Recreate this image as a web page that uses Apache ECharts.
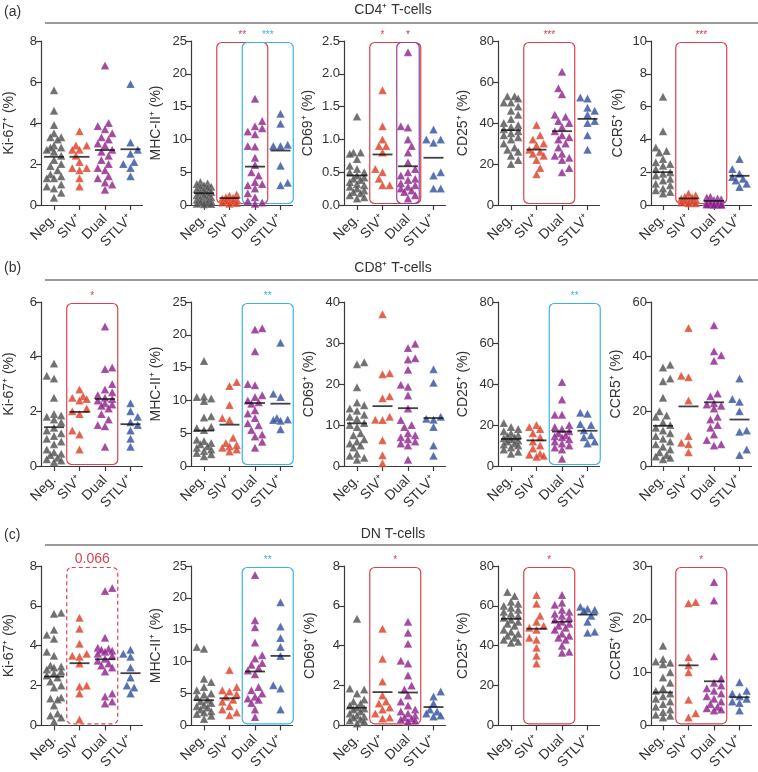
<!DOCTYPE html>
<html><head><meta charset="utf-8">
<script src="https://cdn.jsdelivr.net/npm/echarts@6/dist/echarts.min.js"></script>
<style>html,body{margin:0;padding:0;background:#fff}#c{width:758px;height:772px}</style>
</head><body><div id="c"></div>
<script>
// ---------- DATA ----------
const groups = ['Neg.', 'SIV⁺', 'Dual', 'STLV⁺'];
const rowTitles = ['CD4⁺ T-cells', 'CD8⁺ T-cells', 'DN T-cells'];
const rowLetters = ['(a)', '(b)', '(c)'];
const markerNames = ['Ki-67⁺ (%)', 'MHC-II⁺ (%)', 'CD69⁺ (%)', 'CD25⁺ (%)', 'CCR5⁺ (%)'];

// CD4+ T-cells
const cd4_ki67 = [
  [5.6,4.6,3.9,3.5,3.3,3.3,3.2,2.9,2.8,2.8,2.7,2.6,2.4,2.2,2.0,1.9,1.7,1.5,1.4,1.3,1.3,1.0,0.9,0.8,0.6,0.35],
  [3.6,2.9,2.9,2.7,2.7,2.4,2.1,1.8,1.8,1.7,1.3,0.9],
  [6.8,4.0,3.85,3.7,3.5,3.3,3.2,3.0,2.9,2.7,2.6,2.4,2.2,2.0,1.8,1.7,1.4,1.3,1.1,1.0,0.75],
  [5.9,3.05,2.7,2.5,2.1,2.0,1.8,1.4]];
const cd4_ki67_mean = [2.35, 2.35, 2.68, 2.72];
const cd4_mhc = [
  [3.5,3.3,3.2,3.0,2.8,2.7,2.6,2.4,2.2,2.0,1.9,1.7,1.5,1.4,1.2,1.0,0.9,0.8,0.6,0.5,0.4,0.3,0.2,0.15,0.1],
  [1.6,1.4,1.2,1.1,1.0,0.9,0.8,0.6,0.5,0.4,0.3,0.2],
  [16.2,12.8,12.0,11.7,11.2,10.8,9.0,8.9,7.2,6.1,5.0,4.5,3.5,3.2,3.0,2.5,1.8,1.2,0.6,0.4,0.2],
  [13.9,12.4,9.2,9.0,9.0,6.0,3.4,3.0]];
const cd4_mhc_mean = [1.8, 1.05, 5.85, 8.3];
const cd4_cd69 = [
  [1.35,0.8,0.8,0.78,0.7,0.6,0.55,0.5,0.5,0.45,0.42,0.4,0.38,0.35,0.32,0.3,0.28,0.25,0.22,0.2,0.18,0.15,0.12,0.1],
  [1.75,1.2,1.0,0.9,0.9,0.8,0.55,0.5,0.4,0.3,0.3],
  [2.33,1.2,1.18,1.0,0.9,0.8,0.65,0.55,0.5,0.45,0.4,0.38,0.33,0.3,0.28,0.25,0.22,0.2,0.15,0.1],
  [1.15,1.0,1.0,0.95,0.5,0.45,0.25,0.25]];
const cd4_cd69_mean = [0.45, 0.77, 0.59, 0.72];
const cd4_cd25 = [
  [53,53,52,50,50,48,46,44,42,40,39,38,37,36,35,34,33,32,30,28,27,26,24,22,20],
  [39,34,32,30,29,27,26,25,24,22,18,15],
  [65,57,54,44,43,41,40,38,36,34,33,32,30,28,25,24,23,22,18,16],
  [52.5,52,47.5,46,44,41,40,34,27]];
const cd4_cd25_mean = [36.5, 27, 36, 42];
const cd4_ccr5 = [
  [6.6,4.5,3.5,3.3,3.2,2.8,2.6,2.5,2.4,2.2,2.0,1.9,1.8,1.6,1.5,1.3,1.2,1.0,0.9,0.8,0.7],
  [0.7,0.6,0.5,0.45,0.4,0.35,0.3,0.25,0.2,0.15,0.1,0.1],
  [0.5,0.45,0.4,0.35,0.3,0.25,0.2,0.18,0.15,0.12,0.1,0.08,0.06,0.05,0.05,0.04,0.03,0.03,0.02,0.02],
  [2.8,2.2,1.9,1.7,1.6,1.5,1.3,1.1]];
const cd4_ccr5_mean = [2.0, 0.4, 0.25, 1.78];

// CD8+ T-cells
const cd8_ki67 = [
  [3.75,3.3,3.2,2.5,1.9,1.85,1.8,1.7,1.6,1.4,1.3,1.2,1.1,1.0,0.9,0.8,0.6,0.5,0.45,0.4,0.3,0.25,0.2,0.15],
  [2.8,2.55,2.5,2.45,2.4,2.1,2.0,1.9,1.3,1.15,0.6],
  [5.1,3.6,3.55,3.0,2.8,2.7,2.6,2.5,2.45,2.4,2.3,2.25,2.2,2.1,1.9,1.7,1.5,1.45,0.7],
  [2.3,2.0,1.8,1.6,1.5,1.3,1.0,0.7]];
const cd8_ki67_mean = [1.42, 1.98, 2.45, 1.53];
const cd8_mhc = [
  [16.0,10.6,10.5,10.3,9.9,7.6,7.4,6.0,5.8,5.5,4.0,3.8,3.5,3.3,3.0,2.8,2.5,2.3,2.0,1.8,1.5],
  [12.8,12.2,9.3,7.3,7.0,4.3,3.5,3.2,3.0,2.8,2.5,2.2],
  [21.0,20.8,17.5,12.5,12.3,10.8,10.5,10.0,9.7,9.5,8.5,8.0,7.3,6.5,6.2,5.5,4.8,4.5,3.7,2.8],
  [18.8,11.0,10.5,7.3,7.1,7.0,6.9,5.6]];
const cd8_mhc_mean = [5.4, 6.3, 9.6, 9.5];
const cd8_cd69 = [
  [25.3,24.8,19.2,15.5,14.8,14.0,13.5,12.5,12.0,11.5,10.5,10.0,9.5,8.0,7.5,6.5,6.0,5.5,5.0,4.5,3.0,2.5,2.0,1.5],
  [37.0,22.6,22.4,17.0,16.5,12.0,11.3,11.2,6.3,2.6,0.7],
  [29.8,28.8,26.3,26.0,23.5,19.8,19.3,17.2,14.0,11.2,10.0,9.5,8.0,7.5,7.0,6.5,6.0,5.5,5.0,1.5],
  [23.6,20.3,12.0,11.5,11.3,9.5,5.0,2.5]];
const cd8_cd69_mean = [10.4, 14.6, 14.1, 11.7];
const cd8_cd25 = [
  [21,19,18,17,16,15,14.5,14,13.5,13,12.5,12,11,10.5,10,9,8,7,6],
  [20,19,18,16,14,12,10,8.5,6,5.5,5,4.5],
  [41,32.5,25,25,20,19,18,17,16,15,14.5,14,13,12,11,10,9,8,3.5],
  [26,25.5,20.5,20,17.5,15,14,12,11]];
const cd8_cd25_mean = [13.2, 12.5, 16.8, 17.2];
const cd8_ccr5 = [
  [37,36,32,31,25,20,18.5,18,16,15,14,13,12,11,10,9,8,7,6,5,4,3.5,3,2.5],
  [50.5,33,32.5,24,11,8.5,8,5],
  [51.5,42,40.5,38.5,26.5,25.5,23,22.5,22,21,18,17,15,14,11.5,9.5,8,7.5],
  [32,24.5,23.5,20,13,12.5,6,4]];
const cd8_ccr5_mean = [14.7, 21.8, 23.3, 17];

// DN T-cells
const dn_ki67 = [
  [5.65,5.6,4.8,4.55,4.35,3.7,3.5,3.0,2.95,2.9,2.8,2.7,2.6,2.5,2.4,2.2,2.0,1.9,1.4,1.35,1.3,1.0,0.6,0.5,0.4,0.2],
  [5.4,4.85,4.1,3.6,3.5,3.45,3.1,2.0,1.95,1.6,0.3],
  [6.9,6.75,4.4,3.9,3.85,3.8,3.75,3.7,3.6,3.5,3.35,3.25,3.1,3.0,2.9,2.7,1.6,1.45,1.2,1.1],
  [3.8,3.6,3.45,2.9,2.4,2.0,1.9,1.6]];
const dn_ki67_mean = [2.45, 3.12, 3.32, 2.62];
const dn_mhc = [
  [12.3,12.0,7.3,6.8,6.0,5.5,5.0,4.8,4.5,4.0,3.8,3.5,3.2,3.0,2.8,2.5,2.2,2.0,1.8,1.5,1.0],
  [8.7,6.0,5.5,5.3,4.9,4.5,4.0,3.7,3.0,2.5,2.0,1.6],
  [23.6,16.5,15.4,13.0,11.0,10.5,9.8,9.5,9.0,8.6,8.0,6.0,5.5,5.0,4.5,4.2,4.0,3.5,2.5,1.3],
  [19.3,15.5,13.7,12.3,10.9,6.3,5.8,2.5]];
const dn_mhc_mean = [3.95, 4.25, 8.45, 10.9];
const dn_cd69 = [
  [5.35,1.85,1.8,1.6,1.3,1.2,1.1,1.0,0.9,0.85,0.8,0.7,0.6,0.5,0.45,0.4,0.3,0.25,0.2,0.1],
  [4.85,3.35,2.2,1.5,1.2,1.1,0.9,0.8,0.6,0.4,0.35],
  [5.2,4.65,4.1,3.25,3.1,2.5,2.0,1.8,1.5,1.2,1.0,0.8,0.7,0.6,0.5,0.4,0.35,0.3,0.25,0.2],
  [1.7,1.45,1.1,0.8,0.7,0.6,0.5,0.45]];
const dn_cd69_mean = [0.88, 1.67, 1.65, 0.92];
const dn_cd25 = [
  [67,65,62,61,60,59,58,57,56,55,54,53,52,51,50,48,47,46,45,44,43,42,41.5],
  [65.5,61,55,52,50,49,48,44,43,39,35,31],
  [65.5,61.5,60.5,58,57,56,55,54,53,52,51,50,49,48,46,45,44,43,40,37,36.5],
  [59.5,58.5,58,57.5,55,52,47,46.5]];
const dn_cd25_mean = [53.5, 48.5, 52, 55.6];
const dn_ccr5 = [
  [15.0,12.5,12.0,11.8,11.5,10.0,9.0,8.0,7.0,6.5,6.0,5.5,5.0,4.5,4.0,3.5,3.0,2.5,2.0,1.8,1.5],
  [23.2,23.0,12.8,11.3,10.0,4.8,2.3,1.5],
  [27.0,23.5,13.0,8.8,8.0,7.5,7.0,6.5,6.0,5.5,5.0,4.5,4.0,3.5,3.2,3.0,2.8],
  [8.1,6.5,6.0,5.5,5.0,4.5,4.2,2.8]];
const dn_ccr5_mean = [6.2, 11.3, 8.3, 5.3];

// y-axis ranges and tick steps
const cd4_ymax = [8, 25, 2.5, 80, 10];  const cd4_step = [2, 5, 0.5, 20, 2];
const cd8_ymax = [6, 25, 40, 80, 60];   const cd8_step = [2, 5, 10, 20, 20];
const dn_ymax  = [8, 25, 8, 80, 30];    const dn_step  = [2, 5, 2, 20, 10];

// significance comparisons (category index range, label, kind)
const cd4_sig = [[], [{from:1,to:2,label:'**',kind:'red'},{from:2,to:3,label:'***',kind:'cyan'}],
  [{from:1,to:2,label:'*',kind:'red',labelAt:1},{from:2,to:2,label:'*',kind:'purple',inner:true}],
  [{from:1,to:2,label:'***',kind:'red'}], [{from:1,to:2,label:'***',kind:'red'}]];
const cd8_sig = [[{from:1,to:2,label:'*',kind:'red'}], [{from:2,to:3,label:'**',kind:'cyan'}], [],
  [{from:2,to:3,label:'**',kind:'cyan'}], []];
const dn_sig = [[{from:1,to:2,label:'0.066',kind:'red',dashed:true}], [{from:2,to:3,label:'**',kind:'cyan'}],
  [{from:1,to:2,label:'*',kind:'red'}], [{from:1,to:2,label:'*',kind:'red'}], [{from:1,to:2,label:'*',kind:'red'}]];

// ---------- LAYOUT / STYLE ----------
const FONT = "'Liberation Sans', Arial, sans-serif";
const COLORS = ['#4d4d4d', '#dc3b22', '#8c1d8a', '#2d4c9f'];
const BOX = {red:'#d8434f', cyan:'#3ab5e2', purple:'#95409a'};
const AXC = '#3a3a3a';
const ROW_TOP = [41, 302, 566];
const PLOT_H = 164;
const AXIS_X = [41, 191, 344, 498, 651];
const NEG_X = [54, 204, 357, 511, 663];
const NAME_EDGE = [[16,163,315,470,625],[16,163,316,470,623],[16,163,317,470,623]];
const BAND = 25.5;

const rows = [
  {data:[cd4_ki67,cd4_mhc,cd4_cd69,cd4_cd25,cd4_ccr5], means:[cd4_ki67_mean,cd4_mhc_mean,cd4_cd69_mean,cd4_cd25_mean,cd4_ccr5_mean], ymax:cd4_ymax, step:cd4_step, sig:cd4_sig},
  {data:[cd8_ki67,cd8_mhc,cd8_cd69,cd8_cd25,cd8_ccr5], means:[cd8_ki67_mean,cd8_mhc_mean,cd8_cd69_mean,cd8_cd25_mean,cd8_ccr5_mean], ymax:cd8_ymax, step:cd8_step, sig:cd8_sig},
  {data:[dn_ki67,dn_mhc,dn_cd69,dn_cd25,dn_ccr5], means:[dn_ki67_mean,dn_mhc_mean,dn_cd69_mean,dn_cd25_mean,dn_ccr5_mean], ymax:dn_ymax, step:dn_step, sig:dn_sig}
];

// beeswarm: horizontal dodge in pixel space so triangles do not pile up
function swarm(vals, yMax, cat) {
  const ppu = PLOT_H / yMax, STEP = 3.6, MIND = 7, MAXK = 2;
  const order = vals.map((v, i) => i).sort((a, b) => vals[a] - vals[b]);
  const placed = [], res = new Array(vals.length);
  for (const i of order) {
    const y = vals[i] * ppu;
    let best = 0, bestD = -1, done = false;
    for (let k = 0; k <= MAXK && !done; k++) {
      const cands = k === 0 ? [0] : (placed.length % 2 ? [k * STEP, -k * STEP] : [-k * STEP, k * STEP]);
      for (const x of cands) {
        let d = Infinity;
        for (const p of placed) d = Math.min(d, Math.hypot(p.x - x, p.y - y));
        if (d >= MIND) { best = x; done = true; break; }
        if (d > bestD) { bestD = d; best = x; }
      }
    }
    placed.push({x: best, y});
    res[i] = [cat + best / BAND, vals[i]];
  }
  return res;
}

const grids = [], xAxes = [], yAxes = [], series = [], graphics = [];
rows.forEach((row, r) => {
  row.data.forEach((pd, c) => {
    const idx = grids.length;
    const ax = AXIS_X[c];
    const xMin = -(NEG_X[c] - ax) / BAND, xMax = 3 + 12 / BAND;
    const yMax = row.ymax[c], step = row.step[c];
    grids.push({left: ax, top: ROW_TOP[r], width: (xMax - xMin) * BAND, height: PLOT_H});
    xAxes.push({gridIndex: idx, type: 'value', min: xMin, max: xMax,
      axisLine: {show: true, onZero: false, lineStyle: {color: AXC, width: 1.2}},
      splitLine: {show: false},
      axisTick: {show: true, customValues: [0,1,2,3], length: 5, lineStyle: {color: AXC, width: 1.2}},
      axisLabel: {customValues: [0,1,2,3], formatter: v => groups[Math.round(v)], rotate: 45,
        fontSize: 14, color: '#333', margin: 12, fontFamily: FONT}});
    yAxes.push({gridIndex: idx, type: 'value', min: 0, max: yMax, interval: step,
      axisLine: {show: true, onZero: false, lineStyle: {color: AXC, width: 1.2}},
      axisTick: {show: true, length: 5, lineStyle: {color: AXC, width: 1.2}},
      splitLine: {show: false},
      axisLabel: {formatter: v => step < 1 ? v.toFixed(1) : String(v), fontSize: 13, color: '#333', margin: 4, fontFamily: FONT},
      name: markerNames[c], nameLocation: 'middle', nameRotate: 90, nameGap: ax - NAME_EDGE[r][c],
      nameTextStyle: {fontSize: 14, color: '#333', fontFamily: FONT}});
    const comps = row.sig[c];
    if (comps.length) {
      series.push({type: 'custom', xAxisIndex: idx, yAxisIndex: idx, z: 1, clip: false, silent: true,
        data: comps.map(s => [s.from, s.to]),
        renderItem: (params, api) => {
          const s = comps[params.dataIndex];
          const col = BOX[s.kind];
          const inset = s.inner ? 1.5 : 0;
          const x0 = api.coord([api.value(0) - 0.5, 0])[0] + inset;
          const x1 = api.coord([api.value(1) + 0.5, 0])[0] - inset;
          const yb = api.coord([0, 0])[1] - 1.5;
          const yt = api.coord([0, yMax])[1] + 1.5;
          const lx = s.labelAt !== undefined ? api.coord([s.labelAt, 0])[0] : (x0 + x1) / 2;
          const big = s.label.indexOf('*') < 0;
          return {type: 'group', children: [
            {type: 'rect', shape: {x: x0, y: yt, width: x1 - x0, height: yb - yt, r: 5},
              style: {fill: 'none', stroke: col, lineWidth: 1.2, lineDash: s.dashed ? [4, 3] : null}},
            {type: 'text', x: lx, y: yt - (big ? 1 : 2),
              style: {text: s.label, fill: col, fontSize: big ? 14 : 10, fontFamily: FONT, align: 'center', verticalAlign: 'bottom'}}
          ]};
        }});
    }
    pd.forEach((vals, g) => {
      series.push({type: 'scatter', xAxisIndex: idx, yAxisIndex: idx, z: 3, symbol: 'triangle', symbolSize: [8.5, 8],
        itemStyle: {color: COLORS[g], borderColor: 'rgba(255,255,255,0.5)', borderWidth: 0.4},
        data: swarm(vals, yMax, g)});
    });
    series.push({type: 'scatter', xAxisIndex: idx, yAxisIndex: idx, z: 4, symbol: 'rect', symbolSize: [20, 1.8],
      itemStyle: {color: '#111'}, data: row.means[c].map((m, g) => [g, m])});
  });
});

const HEAD_Y = [23, 280, 545], TITLE_Y = [10, 268, 534], LETTER_Y = [12, 268, 535];
rowTitles.forEach((t, r) => {
  graphics.push({type: 'line', shape: {x1: 45, y1: HEAD_Y[r], x2: 758, y2: HEAD_Y[r]}, style: {stroke: '#9a9a9a', lineWidth: 1.8}});
  graphics.push({type: 'text', x: 393, y: TITLE_Y[r], style: {text: t, fill: '#333', fontSize: 14, fontFamily: FONT, align: 'center', verticalAlign: 'middle'}});
  graphics.push({type: 'text', x: 4, y: LETTER_Y[r], style: {text: rowLetters[r], fill: '#333', fontSize: 14, fontFamily: FONT, align: 'left', verticalAlign: 'middle'}});
});

const chart = echarts.init(document.getElementById('c'), null, {renderer: 'canvas'});
chart.setOption({animation: false, backgroundColor: '#fff', textStyle: {fontFamily: FONT},
  grid: grids, xAxis: xAxes, yAxis: yAxes, series, graphic: graphics});
</script>
</body></html>
